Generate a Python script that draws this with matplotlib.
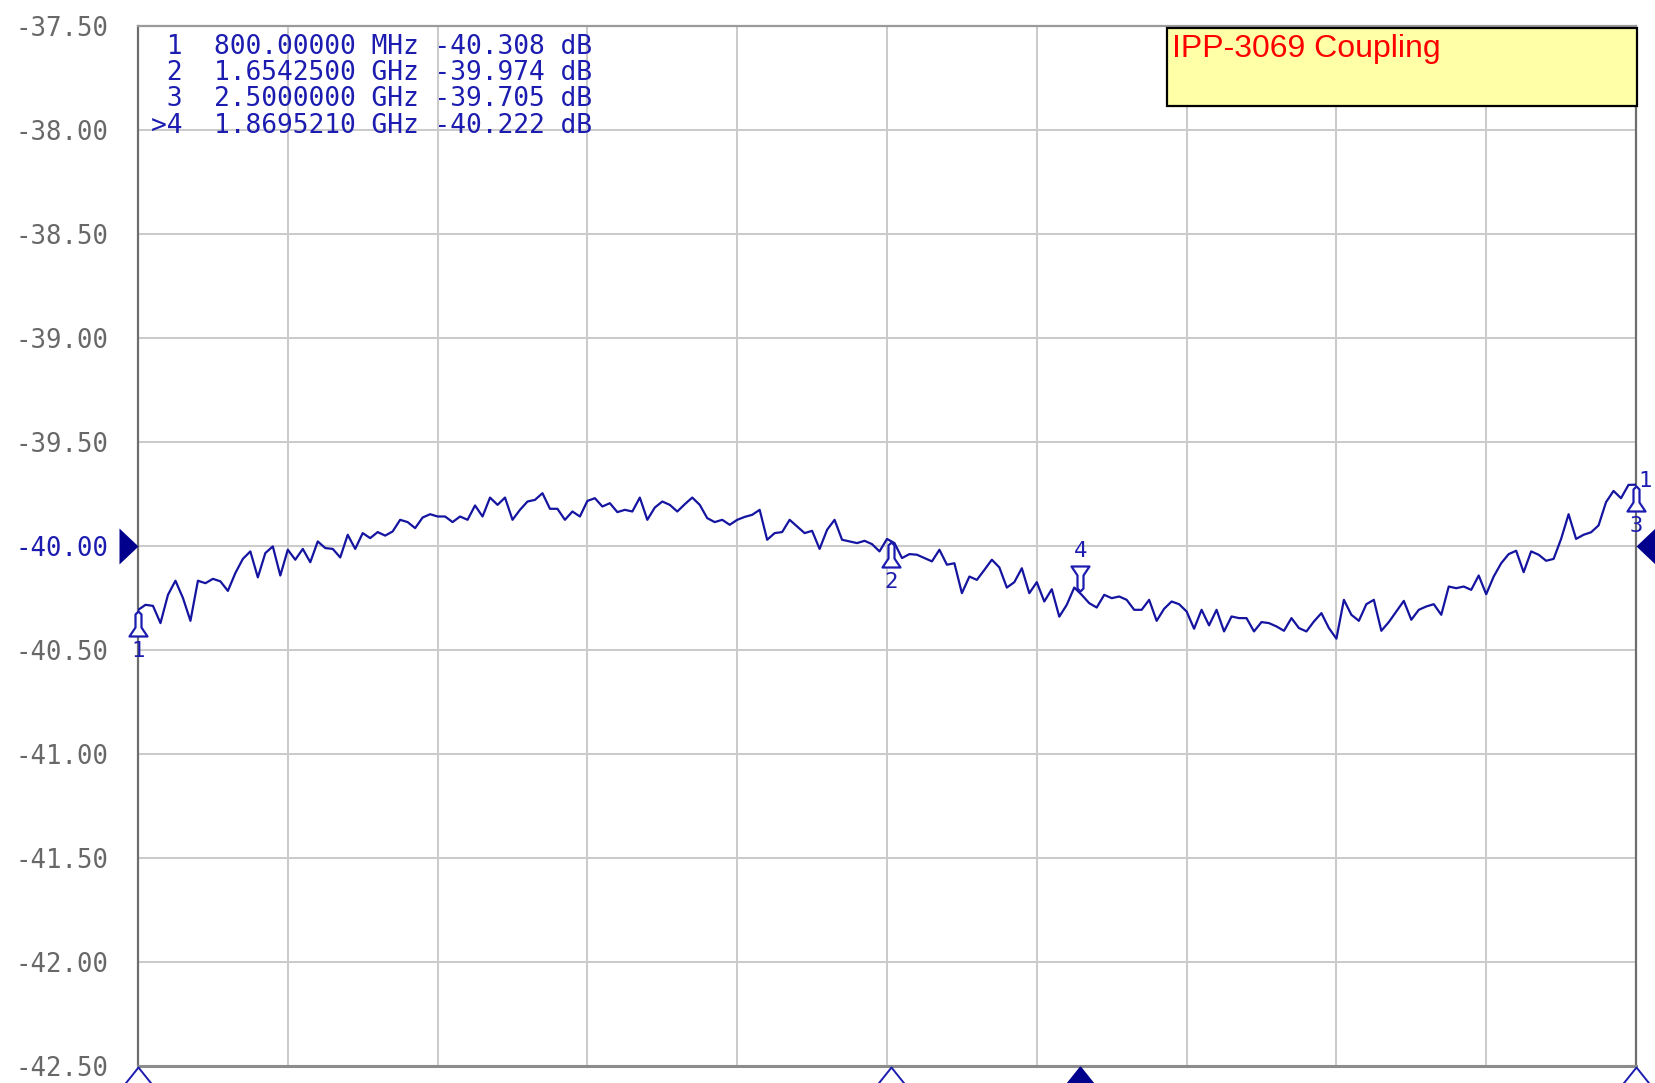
import numpy as np
import matplotlib.pyplot as plt
import matplotlib.patches as patches
from matplotlib.path import Path

W, H = 1656, 1083

# colores aproximados de la pantalla del analizador
COLORS = {
    'trace': '#1414a0', 'marker': '#1c1cb0', 'solid': '#00008c',
    'grid': '#cbcbcb', 'axis': '#6e6e6e', 'label': '#686868',
    'box': '#ffffa8', 'title': '#ff0000',
}

# barrido del VNA: 201 puntos de 800 MHz a 2.5 GHz
freq_ghz = np.linspace(0.8, 2.5, 201)
s21_db = [
    -40.308, -40.283, -40.288, -40.371, -40.235, -40.167, -40.250, -40.360, -40.167, -40.179,
    -40.158, -40.170, -40.216, -40.130, -40.062, -40.026, -40.151, -40.034, -40.002, -40.142,
    -40.018, -40.066, -40.014, -40.078, -39.978, -40.010, -40.014, -40.055, -39.946, -40.014,
    -39.938, -39.962, -39.933, -39.950, -39.930, -39.874, -39.885, -39.914, -39.863, -39.847,
    -39.858, -39.858, -39.885, -39.858, -39.874, -39.805, -39.858, -39.767, -39.802, -39.767,
    -39.874, -39.826, -39.786, -39.778, -39.746, -39.821, -39.821, -39.874, -39.834, -39.858,
    -39.783, -39.770, -39.810, -39.794, -39.837, -39.826, -39.834, -39.767, -39.874, -39.815,
    -39.786, -39.802, -39.834, -39.799, -39.767, -39.802, -39.866, -39.885, -39.874, -39.898,
    -39.874, -39.860, -39.850, -39.826, -39.970, -39.938, -39.933, -39.874, -39.906, -39.938,
    -39.927, -40.014, -39.922, -39.874, -39.970, -39.978, -39.986, -39.975, -39.991, -40.026,
    -39.966, -39.986, -40.058, -40.039, -40.042, -40.058, -40.074, -40.018, -40.090, -40.083,
    -40.227, -40.147, -40.163, -40.115, -40.066, -40.103, -40.200, -40.174, -40.107, -40.227,
    -40.174, -40.267, -40.208, -40.340, -40.283, -40.200, -40.235, -40.275, -40.296, -40.235,
    -40.251, -40.243, -40.259, -40.307, -40.307, -40.259, -40.360, -40.302, -40.267, -40.280,
    -40.315, -40.398, -40.307, -40.382, -40.307, -40.411, -40.339, -40.347, -40.347, -40.411,
    -40.366, -40.371, -40.387, -40.408, -40.347, -40.395, -40.411, -40.363, -40.323, -40.395,
    -40.446, -40.259, -40.331, -40.360, -40.280, -40.259, -40.408, -40.366, -40.315, -40.264,
    -40.355, -40.307, -40.291, -40.280, -40.331, -40.195, -40.203, -40.195, -40.211, -40.142,
    -40.232, -40.147, -40.083, -40.039, -40.023, -40.126, -40.026, -40.042, -40.071, -40.062,
    -39.966, -39.847, -39.966, -39.946, -39.934, -39.901, -39.789, -39.735, -39.770, -39.706,
    -39.705,
]

y_ticks = [-42.5, -42.0, -41.5, -41.0, -40.5, -40.0, -39.5, -39.0, -38.5, -38.0, -37.5]
y_tick_labels = ['-42.50', '-42.00', '-41.50', '-41.00', '-40.50', '-40.00',
                 '-39.50', '-39.00', '-38.50', '-38.00', '-37.50']
ref_level = -40.0

marker_ids = ['1', '2', '3', '4']
marker_freq_ghz = [0.8, 1.65425, 2.5, 1.869521]
marker_db = [-40.308, -39.974, -39.705, -40.222]
marker_freq_text = ['800.00000 MHz', '1.6542500 GHz', '2.5000000 GHz', '1.8695210 GHz']
active_marker = '4'

title = 'IPP-3069 Coupling'


def px_marker(verts):
    # marcador en pixeles (y hacia arriba), el origen es el punto de datos
    verts = np.array(verts + [verts[0]], dtype=float)
    codes = [Path.MOVETO] + [Path.LINETO] * (len(verts) - 2) + [Path.CLOSEPOLY]
    size_pt = 2 * np.abs(verts).max() * 72 / 100
    return Path(verts, codes), size_pt


mk_up, mk_up_size = px_marker([(0, -1), (-3, -4), (-3, -17), (-9, -26), (9, -26), (3, -17), (3, -4)])
mk_down, mk_down_size = px_marker([(0, 1), (-3, 4), (-3, 17), (-9, 26), (9, 26), (3, 17), (3, 4)])
mk_bottom, mk_bottom_size = px_marker([(0, -1), (-16, -21), (16, -21)])
mk_ref_l, mk_ref_l_size = px_marker([(0, 0), (-19, 18), (-19, -18)])
mk_ref_r, mk_ref_r_size = px_marker([(0, 0), (19, 18), (19, -18)])

fig = plt.figure(figsize=(W / 100, H / 100), dpi=100)
ax = fig.add_axes([138 / W, (H - 1065.6) / H, 1498 / W, 1039.2 / H])

ax.set_xlim(0.8, 2.5)
ax.set_ylim(-42.5, -37.5)
ax.set_xticks(np.linspace(0.8, 2.5, 11))
ax.set_xticklabels([])
ax.set_yticks(y_ticks)
ax.set_yticklabels(y_tick_labels, family='DejaVu Sans Mono', fontsize=18.5, color=COLORS['label'])
ax.tick_params(length=0, pad=21)
for lbl, val in zip(ax.get_yticklabels(), y_ticks):
    if val == ref_level:
        lbl.set_color(COLORS['marker'])
ax.grid(True, color=COLORS['grid'], lw=1.45)
ax.set_axisbelow(True)

for side in ['left', 'right', 'top']:
    ax.spines[side].set_color(COLORS['axis'])
    ax.spines[side].set_linewidth(1.6)
ax.spines['top'].set_color('#9a9a9a')
ax.spines['bottom'].set_color('#8c8c8c')
ax.spines['bottom'].set_linewidth(2.2)

# traza
ax.plot(freq_ghz, s21_db, color=COLORS['trace'], lw=1.6, zorder=3)

# marcadores sobre la traza
for mid, f, v in zip(marker_ids, marker_freq_ghz, marker_db):
    if mid == active_marker:
        ax.plot(f, v, marker=mk_down, ms=mk_down_size, mfc='white', mec=COLORS['marker'],
                mew=1.6, clip_on=False, zorder=4)
        dy = 41
    else:
        ax.plot(f, v, marker=mk_up, ms=mk_up_size, mfc='white', mec=COLORS['marker'],
                mew=1.6, clip_on=False, zorder=4)
        dy = -41
    ax.annotate(mid, xy=(f, v), xytext=(0, dy), textcoords='offset pixels', ha='center',
                va='center', family='DejaVu Sans Mono', fontsize=16, color=COLORS['marker'],
                annotation_clip=False, zorder=5)

    # triangulos bajo el eje x
    filled = mid == active_marker
    ax.plot(f, -42.5, marker=mk_bottom, ms=mk_bottom_size,
            mfc=COLORS['solid'] if filled else 'white',
            mec=COLORS['solid'] if filled else COLORS['marker'], mew=1.4, clip_on=False, zorder=5)

ax.annotate('1', xy=(2.5, marker_db[2]), xytext=(9, 4), textcoords='offset pixels', ha='center',
            va='center', family='DejaVu Sans Mono', fontsize=16, color=COLORS['marker'],
            annotation_clip=False, zorder=5)

# nivel de referencia
ax.plot(0.8, ref_level, marker=mk_ref_l, ms=mk_ref_l_size, color=COLORS['solid'], mew=0,
        clip_on=False, zorder=5)
ax.plot(2.5, ref_level, marker=mk_ref_r, ms=mk_ref_r_size, color=COLORS['solid'], mew=0,
        clip_on=False, zorder=5)

# tabla de marcadores
for i, (mid, ftxt, v) in enumerate(zip(marker_ids, marker_freq_text, marker_db)):
    prefix = '>' if mid == active_marker else ' '
    line = f"{prefix}{mid}  {ftxt} {v:.3f} dB"
    fig.text(151 / W, 1 - (46.5 + 26.4 * i) / H, line, family='DejaVu Sans Mono', fontsize=18.9,
             color=COLORS['marker'], ha='left', va='center')

# caja del titulo
fig.add_artist(patches.Rectangle((1167 / W, 1 - 106 / H), 470 / W, 78 / H, transform=fig.transFigure,
                                 facecolor=COLORS['box'], edgecolor='black', lw=1.6, zorder=2))
fig.text(1172 / W, 1 - 57.5 / H, title, family='Liberation Sans', fontsize=23,
         color=COLORS['title'], ha='left', va='baseline', zorder=3)

fig.savefig('out.png', dpi=100)
